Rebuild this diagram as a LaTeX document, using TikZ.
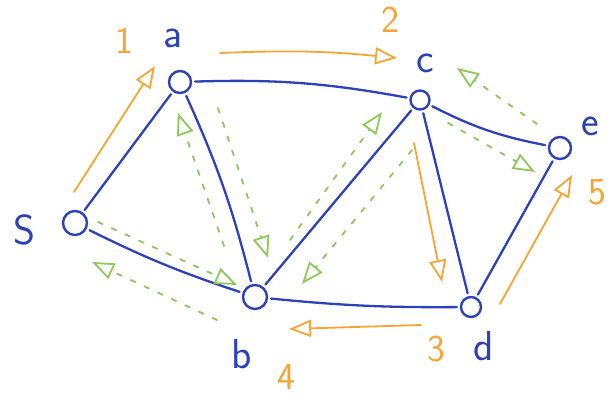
\documentclass[tikz,border=0pt]{standalone}
\usetikzlibrary{arrows.meta}
\definecolor{penblue}{RGB}{45,65,185}
\definecolor{penorange}{RGB}{245,165,50}
\definecolor{pengreen}{RGB}{140,200,90}
\tikzset{
 vtx/.style={circle, draw=penblue, line width=2.4pt, inner sep=0pt},
 edgeline/.style={penblue, line width=2.3pt, line cap=round, shorten <=3pt, shorten >=3pt},
 ortip/.style={-{Triangle[open, length=22pt, width=17pt, line width=1.8pt]}},
 orarrow/.style={penorange, line width=1.8pt, line cap=round, ortip},
 grarrow/.style={pengreen, line width=1.8pt, line cap=round, dash pattern=on 5pt off 10pt, -{Triangle[open, length=22pt, width=17pt, line width=1.8pt]}},
 bluelab/.style={text=penblue, font=\sffamily\fontsize{42}{42}\selectfont, inner sep=0pt},
 orlab/.style={text=penorange, font=\sffamily\fontsize{38}{38}\selectfont, inner sep=0pt},
}
\begin{document}
\begin{tikzpicture}[x=1pt,y=1pt]
\useasboundingbox (0,0) rectangle (611,-396);
\fill[white] (0,0) rectangle (611,-396);
% vertices
\node[vtx, minimum size=24pt] (s) at (75,-223) {};
\node[vtx, minimum size=22pt] (a) at (180,-82) {};
\node[vtx, minimum size=19pt] (c) at (420,-100) {};
\node[vtx, minimum size=22pt] (e) at (560,-148) {};
\node[vtx, minimum size=24pt] (b) at (255,-297) {};
\node[vtx, minimum size=20pt] (d) at (471,-307) {};
% labels
\node[bluelab] (ls) at (24,-230) {S};
\node[bluelab] (la) at (173,-38) {a};
\node[bluelab] (lc) at (425,-63) {c};
\node[bluelab] (le) at (590,-126) {e};
\node[bluelab] (lb) at (242,-354) {b};
\node[bluelab] (ld) at (484,-346) {d};
\node[orlab] (l1) at (124,-41) {1};
\node[orlab] (l2) at (390,-20) {2};
\node[orlab] (l3) at (436,-349) {3};
\node[orlab] (l4) at (286,-377) {4};
\node[orlab] (l5) at (597,-192) {5};
% blue edges
\draw[edgeline] (s) -- (a);
\draw[edgeline] (a) to[bend left=5] (b);
\draw[edgeline] (a) to[bend left=6] (c);
\draw[edgeline] (s) to[bend right=4] (b);
\draw[edgeline] (b) -- (c);
\draw[edgeline] (b) to[bend right=3] (d);
\draw[edgeline] (c) -- (d);
\draw[edgeline] (c) to[bend right=8] (e);
\draw[edgeline] (d) -- (e);
% orange path coordinates
\coordinate (o1s) at (74,-192);  \coordinate (o1e) at (155,-66);
\coordinate (o2s) at (220,-53);  \coordinate (o2e) at (397,-58);
\coordinate (o3s) at (414,-143); \coordinate (o3e) at (442,-282);
\coordinate (o4s) at (421,-325); \coordinate (o4e) at (289,-329);
\coordinate (o5s) at (500,-304); \coordinate (o5e) at (572,-175);
\draw[orarrow] (o1s) -- (o1e);
\draw[orarrow] (o2s) to[bend left=4] (o2e);
\draw[orarrow] (o3s) -- (o3e);
\draw[orarrow] (o4s) -- (o4e);
\draw[orarrow] (o5s) -- (o5e);
% green residual arrows
\coordinate (g1s) at (224,-246); \coordinate (g1e) at (178,-113);
\coordinate (g2s) at (218,-108); \coordinate (g2e) at (268,-258);
\coordinate (g3s) at (98,-222);  \coordinate (g3e) at (237,-285);
\coordinate (g4s) at (217,-320); \coordinate (g4e) at (92,-262);
\coordinate (g5s) at (290,-240); \coordinate (g5e) at (382,-112);
\coordinate (g6s) at (412,-150); \coordinate (g6e) at (302,-284);
\coordinate (g7s) at (537,-124); \coordinate (g7e) at (457,-68);
\coordinate (g8s) at (448,-123); \coordinate (g8e) at (535,-172);
\draw[grarrow] (g1s) -- (g1e);
\draw[grarrow] (g2s) -- (g2e);
\draw[grarrow] (g3s) -- (g3e);
\draw[grarrow] (g4s) -- (g4e);
\draw[grarrow] (g5s) -- (g5e);
\draw[grarrow] (g6s) -- (g6e);
\draw[grarrow] (g7s) -- (g7e);
\draw[grarrow] (g8s) -- (g8e);
\end{tikzpicture}
\end{document}
